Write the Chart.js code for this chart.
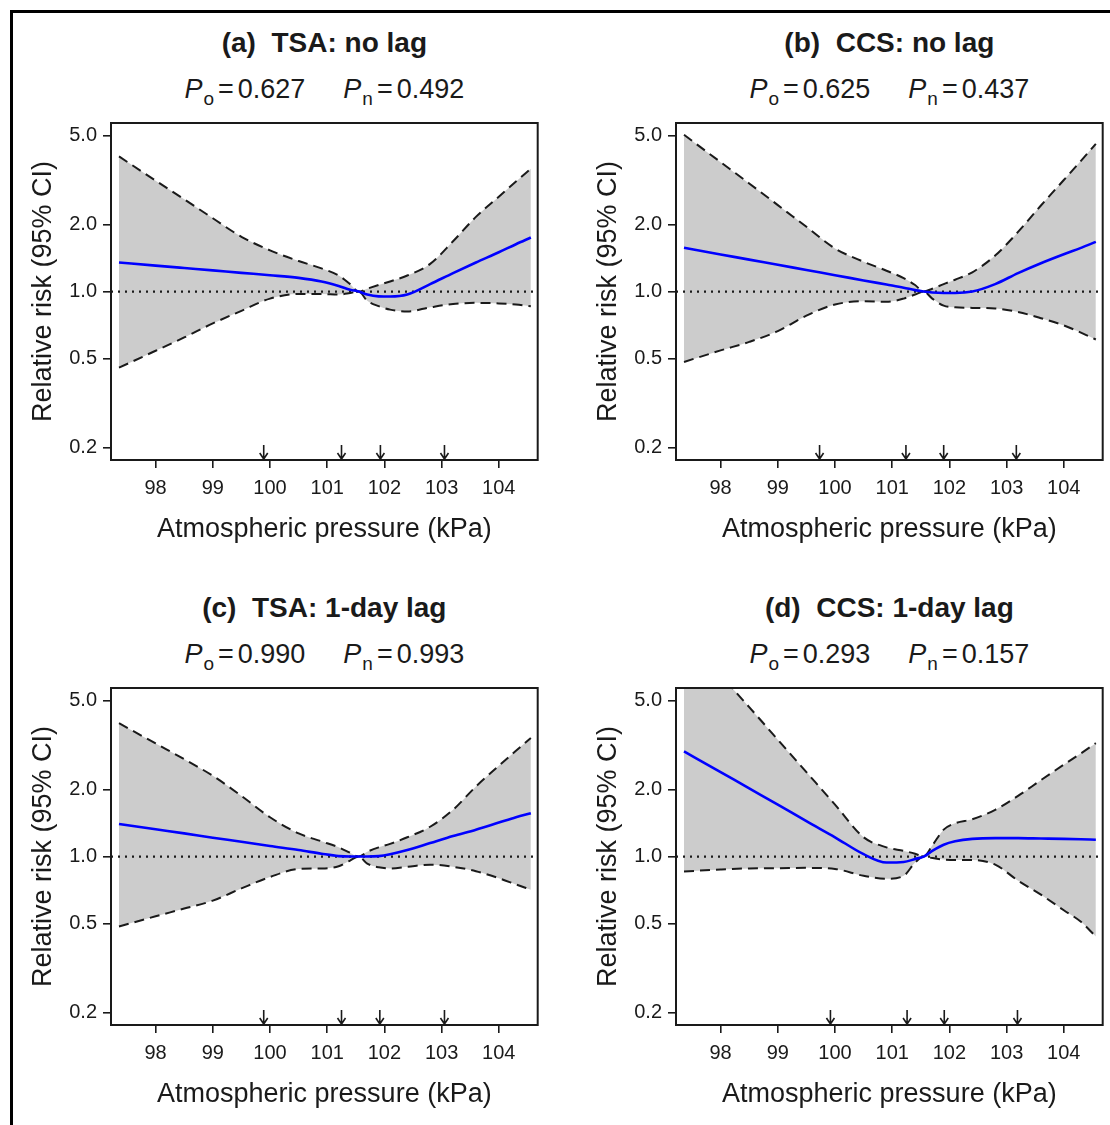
<!DOCTYPE html>
<html lang="en">
<head>
<meta charset="UTF-8">
<title>Relative risk by atmospheric pressure</title>
<script src="https://cdn.jsdelivr.net/npm/chart.js@4.4.4/dist/chart.umd.min.js"></script>
<style>
  body { margin: 0; background: #fff; font-family: "Liberation Sans", Arial, sans-serif; color: #1a1a1a; }
  #page { position: relative; width: 1110px; height: 1125px; overflow: hidden; }
  #frame { position: absolute; left: 10px; top: 10px; width: 1200px; height: 1200px; border-left: 3px solid #000; border-top: 3px solid #000; }
  .panel-title { position: absolute; text-align: center; white-space: pre; font-weight: bold; font-size: 28px; line-height: 32px; }
  .panel-p { position: absolute; text-align: center; white-space: pre; font-size: 27px; line-height: 32px; }
  .panel-p sub { font-size: 19px; line-height: 0; vertical-align: -7px; margin-left: 1px; }
  .panel-p .eq { margin: 0 4px; }
  .panel-p .gap { display: inline-block; width: 38px; }
  canvas { position: absolute; }
</style>
</head>
<body>
<div id="page">
  <div id="frame"></div>
</div>
<script>
// Axis limits and ticks (kPa on x, log relative risk on y)
const X_MIN = 97.22;
const X_MAX = 104.68;
const Y_MIN = 0.176;
const Y_MAX = 5.69;
const X_TICKS = [98, 99, 100, 101, 102, 103, 104];
const Y_TICKS = [0.2, 0.5, 1.0, 2.0, 5.0];
const REF_RR = 1.0;

// Pressure grid that all curves are read at
const PRESSURE = [97.36, 98.0, 98.5, 99.0, 99.5, 100.0, 100.5, 100.9, 101.2, 101.4, 101.55, 101.7, 101.9, 102.1, 102.4, 102.8, 103.2, 103.6, 104.0, 104.3, 104.56];

// (a) TSA: no lag
const RR_A = [1.35, 1.307, 1.275, 1.244, 1.213, 1.184, 1.152, 1.11, 1.06, 1.02, 1.0, 0.97, 0.952, 0.95, 0.97, 1.08, 1.21, 1.35, 1.50, 1.63, 1.746];
const LO_A = [0.456, 0.543, 0.623, 0.72, 0.82, 0.93, 0.975, 0.975, 0.97, 0.985, 1.0, 0.91, 0.86, 0.83, 0.815, 0.85, 0.88, 0.89, 0.885, 0.875, 0.86];
const HI_A = [4.03, 3.14, 2.59, 2.13, 1.76, 1.53, 1.37, 1.27, 1.18, 1.08, 1.0, 1.03, 1.07, 1.11, 1.18, 1.33, 1.68, 2.16, 2.66, 3.11, 3.55];
const ARROWS_A = [99.89, 101.25, 101.93, 103.05];

// (b) CCS: no lag
const RR_B = [1.57, 1.467, 1.39, 1.318, 1.249, 1.184, 1.122, 1.075, 1.041, 1.015, 1.0, 0.99, 0.985, 0.985, 1.0, 1.08, 1.21, 1.34, 1.47, 1.57, 1.67];
const LO_B = [0.484, 0.545, 0.595, 0.665, 0.78, 0.875, 0.905, 0.90, 0.93, 0.97, 1.0, 0.93, 0.865, 0.85, 0.845, 0.84, 0.81, 0.76, 0.705, 0.655, 0.61];
const HI_B = [5.04, 3.80, 3.05, 2.44, 1.95, 1.56, 1.36, 1.24, 1.15, 1.07, 1.0, 1.03, 1.08, 1.13, 1.22, 1.45, 1.85, 2.43, 3.16, 3.85, 4.59];
const ARROWS_B = [99.73, 101.24, 101.90, 103.17];

// (c) TSA: 1-day lag
const RR_C = [1.40, 1.325, 1.27, 1.215, 1.165, 1.115, 1.07, 1.03, 1.005, 1.0, 1.0, 1.0, 1.005, 1.025, 1.07, 1.15, 1.236, 1.32, 1.42, 1.50, 1.565];
const LO_C = [0.486, 0.54, 0.585, 0.635, 0.72, 0.81, 0.88, 0.885, 0.905, 0.96, 1.0, 0.93, 0.895, 0.885, 0.90, 0.92, 0.90, 0.86, 0.80, 0.75, 0.71];
const HI_C = [3.96, 3.21, 2.73, 2.30, 1.87, 1.50, 1.27, 1.17, 1.10, 1.04, 1.0, 1.05, 1.10, 1.14, 1.22, 1.36, 1.62, 2.06, 2.55, 2.98, 3.40];
const ARROWS_C = [99.89, 101.25, 101.92, 103.05];

// (d) CCS: 1-day lag
const RR_D = [2.96, 2.39, 2.02, 1.71, 1.44, 1.22, 1.025, 0.94, 0.945, 0.975, 1.0, 1.06, 1.13, 1.17, 1.20, 1.21, 1.21, 1.205, 1.20, 1.195, 1.19];
const LO_D = [0.857, 0.875, 0.885, 0.887, 0.89, 0.88, 0.82, 0.795, 0.82, 0.94, 1.0, 0.985, 0.97, 0.965, 0.965, 0.92, 0.78, 0.675, 0.575, 0.51, 0.438];
const HI_D = [10.0, 6.5, 4.67, 3.34, 2.39, 1.71, 1.22, 1.10, 1.06, 1.03, 1.0, 1.12, 1.32, 1.41, 1.47, 1.62, 1.87, 2.20, 2.58, 2.90, 3.22];
const ARROWS_D = [99.92, 101.26, 101.91, 103.19];

const PANELS = [
    { title: '(a)  TSA: no lag', po: '0.627', pn: '0.492', rr: RR_A, lo: LO_A, hi: HI_A, arrows: ARROWS_A, box: { left: 111, right: 537.7, top: 123 }, titleY: 27, pY: 73 },
    { title: '(b)  CCS: no lag', po: '0.625', pn: '0.437', rr: RR_B, lo: LO_B, hi: HI_B, arrows: ARROWS_B, box: { left: 676, right: 1102.7, top: 123 }, titleY: 27, pY: 73 },
    { title: '(c)  TSA: 1-day lag', po: '0.990', pn: '0.993', rr: RR_C, lo: LO_C, hi: HI_C, arrows: ARROWS_C, box: { left: 111, right: 537.7, top: 688 }, titleY: 592, pY: 638 },
    { title: '(d)  CCS: 1-day lag', po: '0.293', pn: '0.157', rr: RR_D, lo: LO_D, hi: HI_D, arrows: ARROWS_D, box: { left: 676, right: 1102.7, top: 688 }, titleY: 592, pY: 638 },
];

const FONT = "'Liberation Sans', Arial, sans-serif";
const INK = '#1a1a1a';
const Y_AXIS_W = 110;
const X_AXIS_H = 100;
const PAD_TOP = 23;
const BOX_H = 337;

function points(values) {
    return PRESSURE.map((p, i) => ({ x: p, y: values[i] }));
}

// R-style plot box plus the little percentile arrows sitting on the x axis
const boxPlugin = {
    id: 'rbox',
    afterDatasetsDraw(chart, args, opts) {
        const { ctx, chartArea: a, scales } = chart;
        ctx.save();
        ctx.strokeStyle = INK;
        ctx.lineWidth = 2;
        ctx.strokeRect(a.left, a.top, a.right - a.left, a.bottom - a.top);
        ctx.lineWidth = 1.6;
        for (const v of opts.arrows || []) {
            const x = scales.x.getPixelForValue(v);
            ctx.beginPath();
            ctx.moveTo(x, a.bottom - 15);
            ctx.lineTo(x, a.bottom - 1);
            ctx.moveTo(x - 4, a.bottom - 7);
            ctx.lineTo(x, a.bottom - 1);
            ctx.lineTo(x + 4, a.bottom - 7);
            ctx.stroke();
        }
        ctx.restore();
    },
};

function addText(cls, top, box, html) {
    const el = document.createElement('div');
    el.className = cls;
    el.style.left = box.left + 'px';
    el.style.width = (box.right - box.left) + 'px';
    el.style.top = top + 'px';
    el.innerHTML = html;
    document.getElementById('page').appendChild(el);
}

function pValue(sub, value) {
    return `<i>P</i><sub>${sub}</sub><span class="eq">=</span>${value}`;
}

function drawPanel(panel) {
    const box = panel.box;
    addText('panel-title', panel.titleY, box, panel.title);
    addText('panel-p', panel.pY, box, `${pValue('o', panel.po)}<span class="gap"></span>${pValue('n', panel.pn)}`);

    const canvas = document.createElement('canvas');
    const left = box.left - Y_AXIS_W;
    const top = box.top - PAD_TOP;
    const width = Math.min(560, 1110 - left);
    const height = PAD_TOP + BOX_H + X_AXIS_H;
    canvas.width = width;
    canvas.height = height;
    canvas.style.left = left + 'px';
    canvas.style.top = top + 'px';
    document.getElementById('page').appendChild(canvas);

    const axisTitleFont = { family: FONT, size: 27 };
    const tickFont = { family: FONT, size: 20 };

    new Chart(canvas, {
        type: 'line',
        data: {
            datasets: [
                { label: 'RR', data: points(panel.rr), borderColor: '#0000ff', borderWidth: 2.6, order: 0 },
                { label: 'ref', data: [{ x: X_MIN, y: REF_RR }, { x: X_MAX, y: REF_RR }], borderColor: INK, borderWidth: 2.2, borderDash: [2, 5], order: 1 },
                { label: 'upper', data: points(panel.hi), borderColor: INK, borderWidth: 2, borderDash: [10, 6], fill: '+1', backgroundColor: '#cccccc', order: 2 },
                { label: 'lower', data: points(panel.lo), borderColor: INK, borderWidth: 2, borderDash: [10, 6], order: 3 },
            ],
        },
        options: {
            responsive: false,
            animation: false,
            events: [],
            layout: { padding: { top: PAD_TOP, right: left + width - box.right, bottom: 0, left: 0 } },
            elements: {
                point: { radius: 0 },
                line: { cubicInterpolationMode: 'monotone', fill: false },
            },
            plugins: {
                legend: { display: false },
                tooltip: { enabled: false },
                filler: { drawTime: 'beforeDatasetsDraw' },
                rbox: { arrows: panel.arrows },
            },
            scales: {
                x: {
                    type: 'linear',
                    min: X_MIN,
                    max: X_MAX,
                    afterBuildTicks: (s) => { s.ticks = X_TICKS.map((v) => ({ value: v })); },
                    afterFit: (s) => { s.height = X_AXIS_H; },
                    grid: { drawOnChartArea: false, drawTicks: true, tickLength: 8, color: INK, lineWidth: 1.6 },
                    border: { display: false },
                    ticks: { font: tickFont, color: INK, padding: 8, maxRotation: 0, callback: (v) => String(v) },
                    title: { display: true, text: 'Atmospheric pressure (kPa)', font: axisTitleFont, color: INK, padding: { top: 0, bottom: 14 } },
                },
                y: {
                    type: 'logarithmic',
                    min: Y_MIN,
                    max: Y_MAX,
                    afterBuildTicks: (s) => { s.ticks = Y_TICKS.map((v) => ({ value: v })); },
                    afterFit: (s) => { s.width = Y_AXIS_W; },
                    grid: { drawOnChartArea: false, drawTicks: true, tickLength: 8, color: INK, lineWidth: 1.6 },
                    border: { display: false },
                    ticks: { font: tickFont, color: INK, padding: 6, callback: (v) => Number(v).toFixed(1) },
                    title: { display: true, text: 'Relative risk (95% CI)', font: axisTitleFont, color: INK, padding: { top: 26, bottom: 0 } },
                },
            },
        },
        plugins: [boxPlugin],
    });
}

PANELS.forEach(drawPanel);
</script>
</body>
</html>
